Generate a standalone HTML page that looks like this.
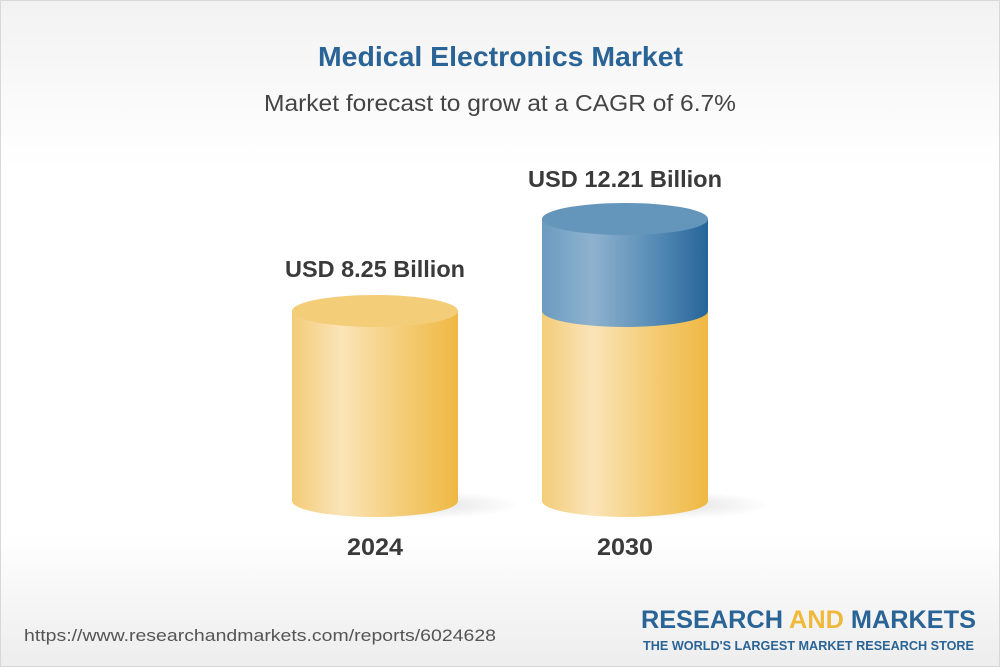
<!DOCTYPE html>
<html><head><style>
html,body{margin:0;padding:0}
body{width:1000px;height:667px;overflow:hidden;font-family:"Liberation Sans",sans-serif;}
</style></head><body>
<svg width="1000" height="667" xmlns="http://www.w3.org/2000/svg">
<defs>
<linearGradient id="bg" x1="0" y1="0" x2="0" y2="1">
<stop offset="0" stop-color="#f2f2f2"/><stop offset="0.25" stop-color="#ffffff"/><stop offset="0.8" stop-color="#ffffff"/><stop offset="1" stop-color="#ededed"/></linearGradient>
<linearGradient id="y" x1="0" x2="1"><stop offset="0" stop-color="#f3cc78"/><stop offset="0.3" stop-color="#fae4b8"/><stop offset="0.65" stop-color="#f4cd78"/><stop offset="1" stop-color="#efb843"/></linearGradient>
<linearGradient id="b" x1="0" x2="1"><stop offset="0" stop-color="#6b9bc0"/><stop offset="0.3" stop-color="#8fb2ce"/><stop offset="0.65" stop-color="#5b8fb8"/><stop offset="1" stop-color="#266599"/></linearGradient>
<radialGradient id="sh"><stop offset="0" stop-color="#000" stop-opacity="0.12"/><stop offset="1" stop-color="#000" stop-opacity="0"/></radialGradient>
</defs>
<rect width="1000" height="667" fill="url(#bg)"/>
<rect x="0.5" y="0.5" width="999" height="666" fill="none" stroke="#d8d8d8"/>
<text x="318" y="66" font-size="28" font-weight="bold" fill="#2a6496" textLength="365" lengthAdjust="spacingAndGlyphs">Medical Electronics Market</text>
<text x="264" y="111" font-size="23" fill="#444" textLength="472" lengthAdjust="spacingAndGlyphs">Market forecast to grow at a CAGR of 6.7%</text>
<ellipse cx="420" cy="505" rx="100" ry="14" fill="url(#sh)"/>
<ellipse cx="670" cy="505" rx="100" ry="14" fill="url(#sh)"/>
<path d="M292 311 V501 A83 16 0 0 0 458 501 V311 Z" fill="url(#y)"/>
<ellipse cx="375" cy="311" rx="83" ry="16" fill="#f4cd78"/>
<path d="M542 311 V501 A83 16 0 0 0 708 501 V311 Z" fill="url(#y)"/>
<path d="M542 219 V311 A83 16 0 0 0 708 311 V219 Z" fill="url(#b)"/>
<ellipse cx="625" cy="219" rx="83" ry="16" fill="#6496bc"/>
<text x="285" y="277" font-size="23" font-weight="bold" fill="#3a3a3a" textLength="180" lengthAdjust="spacingAndGlyphs">USD 8.25 Billion</text>
<text x="528" y="187" font-size="23" font-weight="bold" fill="#3a3a3a" textLength="194" lengthAdjust="spacingAndGlyphs">USD 12.21 Billion</text>
<text x="347" y="555" font-size="24" font-weight="bold" fill="#3a3a3a" textLength="56" lengthAdjust="spacingAndGlyphs">2024</text>
<text x="597" y="555" font-size="24" font-weight="bold" fill="#3a3a3a" textLength="56" lengthAdjust="spacingAndGlyphs">2030</text>
<text x="24" y="641" font-size="17" fill="#555" textLength="472" lengthAdjust="spacingAndGlyphs">https://www.researchandmarkets.com/reports/6024628</text>
<text x="641" y="628" font-size="25" font-weight="bold" fill="#2a6496" textLength="335" lengthAdjust="spacingAndGlyphs">RESEARCH <tspan fill="#f0b93c">AND</tspan> MARKETS</text>
<text x="643" y="650" font-size="13" font-weight="bold" fill="#2a6496" textLength="331" lengthAdjust="spacingAndGlyphs">THE WORLD'S LARGEST MARKET RESEARCH STORE</text>
</svg>
</body></html>
